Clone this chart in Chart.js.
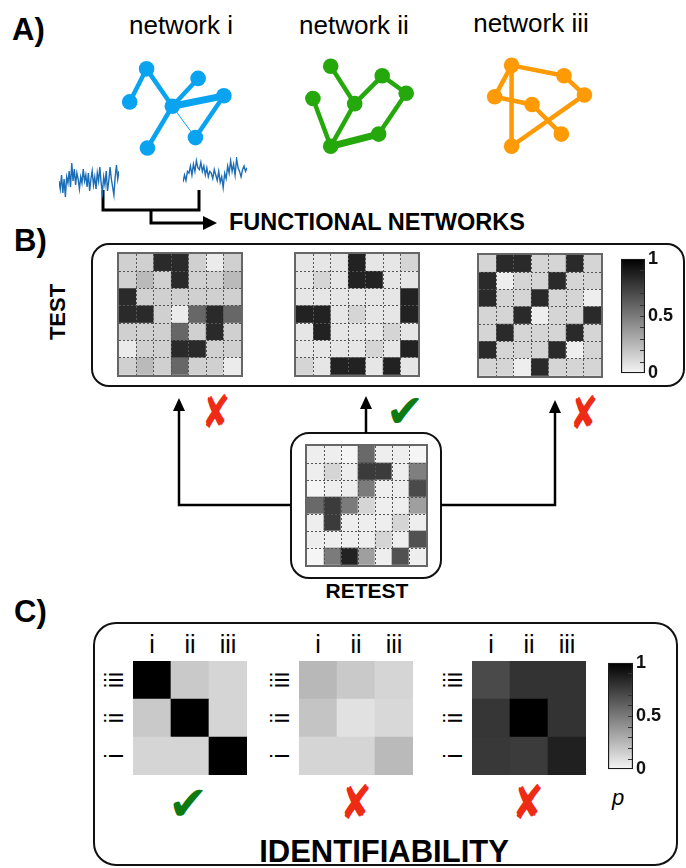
<!DOCTYPE html>
<html>
<head>
<meta charset="utf-8">
<script src="https://cdn.jsdelivr.net/npm/chart.js@4.4.1/dist/chart.umd.min.js"></script>
<style>
  html, body { margin: 0; padding: 0; background: #fff; }
  #page { position: relative; width: 686px; height: 868px; overflow: hidden; }
  .holder { position: absolute; }
  .holder canvas { display: block; }
  .framed { border: 2px solid #666; }
  #ink { position: absolute; left: 0; top: 0; }
  .lbl { font-family: "Liberation Sans", Arial, Helvetica, sans-serif; fill: #000; }
  .b { font-weight: bold; }
  .mark { font-family: "DejaVu Sans", sans-serif; }
</style>
</head>
<body>
<div id="page">
<svg id="ink" width="686" height="868" viewBox="0 0 686 868">
  <!-- panel A -->
  <text class="lbl b" x="12" y="40" font-size="31">A)</text>
  <text class="lbl" x="181" y="34" font-size="26" text-anchor="middle">network i</text>
  <text class="lbl" x="354" y="34" font-size="26" text-anchor="middle">network ii</text>
  <text class="lbl" x="531" y="32" font-size="26" text-anchor="middle">network iii</text>
  <g fill="none" stroke="#000" stroke-width="3">
    <path d="M103,190 V210 H199 V190"/>
    <path d="M151,210 V223 H205"/>
  </g>
  <polygon points="203,216 217,223 203,230" fill="#000"/>
  <text class="lbl b" x="229" y="230" font-size="23.5">FUNCTIONAL NETWORKS</text>

  <!-- panel B -->
  <text class="lbl b" x="14" y="251" font-size="31">B)</text>
  <rect x="92" y="244" width="592" height="142" rx="17" ry="17" fill="none" stroke="#111" stroke-width="2"/>
  <text class="lbl b" font-size="22" text-anchor="middle" transform="translate(65,312) rotate(-90)">TEST</text>
  <rect x="291" y="433" width="150" height="145" rx="18" ry="18" fill="none" stroke="#111" stroke-width="2"/>
  <text class="lbl b" x="367" y="598" font-size="21" text-anchor="middle">RETEST</text>
  <g fill="none" stroke="#000" stroke-width="2.5">
    <path d="M291,505 H179 V408"/>
    <path d="M366,433 V406"/>
    <path d="M441,505 H555 V410"/>
  </g>
  <g fill="#000">
    <polygon points="173,411 179,398 185,411"/>
    <polygon points="360,409 366,396 372,409"/>
    <polygon points="549,413 555,400 561,413"/>
  </g>
  <text class="mark" font-size="34" fill="#ee2b14" text-anchor="middle" transform="translate(216,428) scale(1,1.35)">✘</text>
  <text class="mark" x="405" y="427" font-size="46" fill="#0d7a12" text-anchor="middle">✔</text>
  <text class="mark" font-size="34" fill="#ee2b14" text-anchor="middle" transform="translate(584,429) scale(1,1.35)">✘</text>

  <!-- panel C -->
  <text class="lbl b" x="14" y="622" font-size="31">C)</text>
  <rect x="94" y="623" width="583" height="242" rx="22" ry="22" fill="none" stroke="#111" stroke-width="2"/>
  <g id="cLabels"></g>
  <text class="mark" x="188" y="820" font-size="48" fill="#0d7a12" text-anchor="middle">✔</text>
  <text class="mark" font-size="38" fill="#ee2b14" text-anchor="middle" transform="translate(356,819) scale(1,1.25)">✘</text>
  <text class="mark" font-size="38" fill="#ee2b14" text-anchor="middle" transform="translate(528,819) scale(1,1.25)">✘</text>
  <text class="lbl" x="618" y="805" font-size="22" font-style="italic" text-anchor="middle">p</text>
  <text class="lbl b" x="384" y="862" font-size="31" text-anchor="middle">IDENTIFIABILITY</text>
</svg>
</div>

<script>
// ---------- data ----------
// node layouts of the three example networks (layout units)
const netINodes   = [[3.8,10.5],[9.6,9.4],[1.9,6.7],[12.5,7.4],[6.7,6.2],[9.3,2.6],[3.9,1.4]];
const netIEdges   = [[2,0,4.5],[0,4,4.5],[4,1,4.5],[4,3,7],[4,6,4.5],[3,5,4.5],[4,5,1]];
const netIINodes  = [[3.7,10.8],[9.5,9.7],[1.7,7.1],[12.2,7.7],[6.4,6.5],[9.1,3.0],[3.7,1.6]];
const netIIEdges  = [[0,4,4.5],[4,1,4.5],[1,3,4.5],[3,5,4.5],[5,6,7],[6,2,4.5],[6,4,4.5]];
const netIIINodes = [[3.8,10.9],[9.7,9.7],[1.9,7.3],[12.0,7.5],[6.1,6.4],[9.4,3.0],[3.8,1.6]];
const netIIIEdges = [[0,1,4.5],[1,3,4.5],[3,6,4.5],[0,6,4.5],[0,2,4.5],[2,4,4.5],[4,5,4.5]];

// two regional time series
const signalA = [0.5,0.3,0.65,0.2,0.55,0.1,0.6,0.45,0.75,0.35,0.95,0.5,0.8,0.4,0.7,0.55,0.3,0.6,0.45,0.8,
                 0.5,0.65,0.35,0.7,0.25,0.55,0.75,0.4,0.6,0.3,0.7,0.5,0.85,0.45,0.2,0.6,0.4,0.75,0.25,0.5,
                 0.85,0.55,0.35,0.15,0.6,0.9,0.55,0.75];
const signalB = [0.3,0.5,0.35,0.6,0.55,0.75,0.5,0.8,0.6,0.9,0.7,0.65,0.85,0.6,0.75,0.5,0.7,0.45,0.6,0.55,
                 0.4,0.65,0.5,0.35,0.6,0.3,0.45,0.15,0.55,0.4,0.75,0.55,0.9,0.6,0.8,0.5,0.95,0.7,0.6,0.45,
                 0.65,0.75,0.6,0.7];

// 7x7 functional connectivity matrices (rows top to bottom)
const nodeIds = ['1','2','3','4','5','6','7'];
const testI = [
  [0.15,0.15,0.83,0.83,0.15,0.04,0.15],
  [0.15,0.24,0.15,0.83,0.15,0.15,0.24],
  [0.83,0.15,0.15,0.15,0.15,0.15,0.15],
  [0.83,0.83,0.15,0.04,0.58,0.83,0.58],
  [0.15,0.15,0.15,0.58,0.15,0.83,0.15],
  [0.04,0.15,0.15,0.83,0.83,0.15,0.15],
  [0.15,0.24,0.15,0.58,0.15,0.15,0.04]];
const testII = [
  [0.06,0.06,0.06,0.86,0.06,0.06,0.13],
  [0.06,0.13,0.06,0.86,0.86,0.06,0.06],
  [0.06,0.06,0.06,0.06,0.06,0.06,0.86],
  [0.86,0.86,0.06,0.13,0.06,0.06,0.86],
  [0.06,0.86,0.06,0.06,0.06,0.13,0.06],
  [0.06,0.06,0.06,0.06,0.13,0.06,0.86],
  [0.13,0.06,0.86,0.86,0.06,0.86,0.06]];
const testIII = [
  [0.13,0.83,0.83,0.13,0.13,0.83,0.13],
  [0.83,0.03,0.13,0.13,0.83,0.13,0.13],
  [0.83,0.13,0.13,0.83,0.13,0.13,0.03],
  [0.13,0.13,0.83,0.03,0.13,0.13,0.83],
  [0.13,0.83,0.13,0.13,0.13,0.83,0.13],
  [0.83,0.13,0.13,0.13,0.83,0.03,0.13],
  [0.13,0.13,0.03,0.83,0.13,0.13,0.13]];
const retest = [
  [0.03,0.03,0.00,0.57,0.03,0.03,0.00],
  [0.03,0.13,0.03,0.76,0.76,0.03,0.48],
  [0.00,0.03,0.03,0.50,0.03,0.03,0.70],
  [0.57,0.76,0.50,0.13,0.03,0.03,0.35],
  [0.03,0.76,0.03,0.03,0.03,0.13,0.03],
  [0.03,0.03,0.03,0.03,0.13,0.03,0.67],
  [0.00,0.50,0.86,0.35,0.03,0.67,0.03]];

// identifiability matrices
const netNames = ['i','ii','iii'];
const rowNames = ['iii','ii','i'];
const identGood   = [[1.00,0.18,0.13],[0.18,1.00,0.13],[0.13,0.13,1.00]];
const identFlat   = [[0.25,0.18,0.13],[0.20,0.08,0.12],[0.13,0.13,0.24]];
const identDark   = [[0.70,0.79,0.79],[0.78,1.00,0.79],[0.77,0.76,0.87]];

// colour bar
const pRange = [0, 1];
const pTickLabels = [0, 0.5, 1];

// ---------- drawing ----------
const FONT = '"Liberation Sans", Arial, Helvetica, sans-serif';
Chart.defaults.font.family = FONT;
Chart.defaults.animation = false;
const page = document.getElementById('page');

function shade(v) {
  const g = Math.round(245 * (1 - v));
  return `rgb(${g},${g},${g})`;
}

function makeCanvas(left, top, w, h, framed) {
  const d = document.createElement('div');
  d.className = 'holder' + (framed ? ' framed' : '');
  d.style.left = left + 'px';
  d.style.top = top + 'px';
  const c = document.createElement('canvas');
  c.width = w; c.height = h;
  c.style.width = w + 'px'; c.style.height = h + 'px';
  d.appendChild(c);
  page.appendChild(d);
  return c;
}

const quiet = { legend: { display: false }, tooltip: { enabled: false } };

function network(canvas, nodes, edges, color) {
  const datasets = [{
    data: nodes.map(([x, y]) => ({ x, y })),
    pointRadius: 7.8, pointHoverRadius: 7.8,
    backgroundColor: color, borderWidth: 0, showLine: false, clip: false
  }];
  edges.forEach(([a, b, w]) => datasets.push({
    data: [nodes[a], nodes[b]].map(([x, y]) => ({ x, y })),
    showLine: true, borderColor: color, borderWidth: w, pointRadius: 0,
    borderCapStyle: 'round', clip: false
  }));
  new Chart(canvas, {
    type: 'scatter',
    data: { datasets },
    options: {
      responsive: false, layout: { padding: 0 }, plugins: quiet,
      scales: { x: { display: false, min: 0, max: 14 }, y: { display: false, min: 0, max: 12 } }
    }
  });
}

function trace(canvas, values) {
  new Chart(canvas, {
    type: 'line',
    data: { labels: values.map((_, i) => i),
      datasets: [{ data: values, borderColor: '#1b6db6', borderWidth: 1.4, pointRadius: 0, tension: 0, clip: false }] },
    options: {
      responsive: false, layout: { padding: 0 }, plugins: quiet,
      scales: { x: { display: false }, y: { display: false, min: 0, max: 1 } }
    }
  });
}

function heatmap(canvas, rowLabels, colLabels, values, dashed) {
  const n = rowLabels.length;
  const datasets = rowLabels.map((lab, r) => ({
    label: lab,
    data: colLabels.map(() => 1),
    backgroundColor: values[r].map(shade),
    borderWidth: 0,
    barPercentage: 1,
    categoryPercentage: 1
  })).reverse();
  const inner = c => (c.index === 0 || c.index >= n) ? 'rgba(0,0,0,0)' : '#555';
  new Chart(canvas, {
    type: 'bar',
    data: { labels: colLabels, datasets },
    options: {
      responsive: false, layout: { padding: 0 }, plugins: quiet,
      scales: {
        x: { stacked: true, display: dashed, ticks: { display: false },
             grid: { drawTicks: false, color: inner, lineWidth: 1, z: 1 },
             border: { display: false, dash: [2, 2] } },
        y: { stacked: true, min: 0, max: n, display: dashed,
             ticks: { display: false, stepSize: 1 },
             grid: { drawTicks: false, color: inner, lineWidth: 1, z: 1 },
             border: { display: false, dash: [2, 2] } }
      }
    }
  });
}

const innerTicks = {
  id: 'innerTicks',
  afterDatasetsDraw(chart) {
    const y = chart.scales.y, { right } = chart.chartArea, ctx = chart.ctx;
    ctx.save();
    ctx.strokeStyle = '#333';
    ctx.lineWidth = 1;
    ctx.beginPath();
    y.ticks.forEach(t => {
      if (t.value <= pRange[0] + 1e-6 || t.value >= pRange[1] - 1e-6) return;
      const py = Math.round(y.getPixelForValue(t.value)) + 0.5;
      ctx.moveTo(right - 5, py);
      ctx.lineTo(right - 1, py);
    });
    ctx.stroke();
    ctx.restore();
  }
};

function colorbar(canvas, pad) {
  new Chart(canvas, {
    type: 'bar',
    data: { labels: ['p'], datasets: [{
      data: [pRange],
      backgroundColor(ctx) {
        const ch = ctx.chart;
        if (!ch.chartArea) return '#888';
        const y = ch.scales.y;
        const g = ch.ctx.createLinearGradient(0, y.getPixelForValue(pRange[0]), 0, y.getPixelForValue(pRange[1]));
        g.addColorStop(0, shade(pRange[0]));
        g.addColorStop(1, shade(pRange[1]));
        return g;
      },
      borderColor: '#1a1a1a', borderWidth: 1.5, borderSkipped: false,
      barPercentage: 1, categoryPercentage: 1
    }] },
    options: {
      responsive: false, plugins: quiet,
      layout: { padding: { top: pad, bottom: pad, left: 0, right: 0 } },
      scales: {
        x: { display: false },
        y: { position: 'right', min: pRange[0], max: pRange[1],
             afterFit(s) { s.width = 40; },
             grid: { display: false, drawTicks: false }, border: { display: false },
             ticks: { stepSize: 0.1, autoSkip: false, padding: 3, color: '#111',
                      font: { size: 18, weight: 'bold' },
                      callback: v => pTickLabels.some(t => Math.abs(t - v) < 1e-6) ? String(+v.toFixed(1)) : '' } }
      }
    },
    plugins: [innerTicks]
  });
}

// panel A
network(makeCanvas(105, 48, 140, 120), netINodes, netIEdges, '#0aa3f0');
network(makeCanvas(290, 48, 140, 120), netIINodes, netIIEdges, '#25a80c');
network(makeCanvas(470, 48, 140, 120), netIIINodes, netIIIEdges, '#fd9a05');
trace(makeCanvas(59, 161, 60, 40), signalA);
trace(makeCanvas(183, 157, 64, 36), signalB);

// panel B
heatmap(makeCanvas(117, 252, 122, 121, true), nodeIds, nodeIds, testI, true);
heatmap(makeCanvas(294, 252, 122, 121, true), nodeIds, nodeIds, testII, true);
heatmap(makeCanvas(477, 253, 122, 121, true), nodeIds, nodeIds, testIII, true);
heatmap(makeCanvas(305, 444, 119, 119, true), nodeIds, nodeIds, retest, true);
colorbar(makeCanvas(621, 245, 24 + 40, 122 + 20), 10);

// panel C
const cLefts = [133, 299, 472];
[identGood, identFlat, identDark].forEach((m, k) =>
  heatmap(makeCanvas(cLefts[k], 661, 114, 114, false), rowNames, netNames, m, false));
colorbar(makeCanvas(608, 649, 25 + 40, 114 + 20), 10);

// axis names of the identifiability matrices
const NS = 'http://www.w3.org/2000/svg';
const cLabels = document.getElementById('cLabels');
function svgText(str, attrs) {
  const t = document.createElementNS(NS, 'text');
  t.textContent = str;
  t.setAttribute('class', 'lbl');
  Object.entries(attrs).forEach(([k, v]) => t.setAttribute(k, v));
  cLabels.appendChild(t);
}
const cell = 114 / netNames.length;
cLefts.forEach(left => {
  netNames.forEach((nm, j) => svgText(nm, { x: left + cell * (j + 0.5), y: 653, 'font-size': 25, 'text-anchor': 'middle' }));
  rowNames.forEach((nm, r) => svgText(nm, { 'font-size': 25, 'text-anchor': 'middle',
    transform: `translate(${left - 10},${661 + cell * (r + 0.5)}) rotate(-90)` }));
});
</script>
</body>
</html>
